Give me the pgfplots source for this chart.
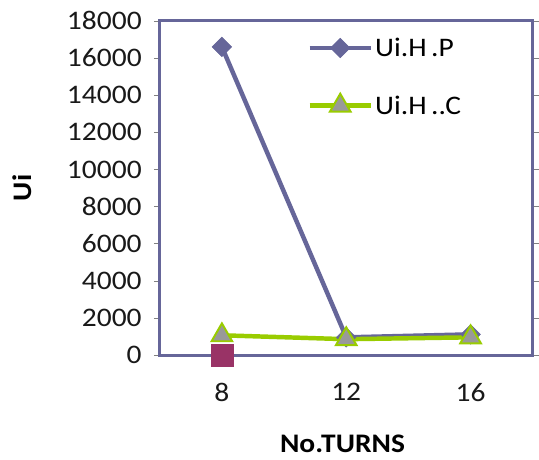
\documentclass[border=0pt]{standalone}
\usepackage{pgfplots}
\pgfplotsset{compat=1.18}
\usepackage{fontspec}
\setmainfont{Carlito}[FakeStretch=1.1]
\definecolor{cP}{HTML}{666699}
\definecolor{cC}{HTML}{99CC00}
\definecolor{cG}{HTML}{999999}
\definecolor{cM}{HTML}{993366}
\begin{document}
\begin{tikzpicture}
\begin{axis}[
  scale only axis,
  width=376pt, height=337pt,
  xmin=-0.5, xmax=2.5, ymin=0, ymax=18000,
  xtick={0,1,2}, xticklabels={8,12,16},
  ytick={0,2000,...,18000},
  scaled y ticks=false,
  /pgf/number format/1000 sep={},
  /pgf/number format/assume math mode=true,
  tick align=outside,
  x tick style={draw=none},
  y tick style={draw=gray, line width=0.6pt},
  major tick length=6pt,
  axis line style={draw=cP, line width=3pt},
  ticklabel style={font=\fontsize{27}{30}\selectfont, text=black!90},
  yticklabel style={inner sep=0pt, xshift=-12pt},
  xticklabel style={inner sep=0pt, yshift=-22pt},
  xlabel={\textbf{No.TURNS}},
  ylabel={\textbf{Ui}},
  label style={font=\fontsize{27}{30}\selectfont, inner sep=0pt},
  xlabel style={at={(axis description cs:0.49,0)}, anchor=center, yshift=-89pt},
  ylabel style={at={(axis description cs:0,0.5)}, anchor=center, xshift=0pt, yshift=139pt},
  clip=false,
  legend style={draw=none, fill=none, at={(0.395,0.955)}, anchor=north west,
    font=\fontsize{27}{30}\selectfont, row sep=34pt, inner sep=0pt},
  legend cell align=left,
  legend image code/.code={\draw[mark repeat=2,mark phase=2] plot coordinates {(0pt,0pt) (31pt,0pt) (62pt,0pt)};},
]
\addplot[cP, line width=4.5pt, mark=square*, mark size=7pt, mark options={rotate=45, fill=cP, draw=cP, line width=0.5pt}]
  coordinates {(0,16600) (1,960) (2,1120)};
\addlegendentry{Ui.H\,.P}
\addplot[cC, line width=4.5pt, mark=triangle*, mark size=12pt, mark options={fill=cG, draw=cC, line width=2pt}]
  coordinates {(0,1070) (1,860) (2,960)};
\addlegendentry{Ui.H\,..C}
\addplot[cM, only marks, mark=square*, mark size=11pt, forget plot]
  coordinates {(0,0)};
\end{axis}
\path (current axis.south west) ++(-161pt,-105pt) coordinate (bl);
\path (current axis.north east) ++(2pt,21pt) coordinate (tr);
\path[use as bounding box] (bl) rectangle (tr);
\end{tikzpicture}
\end{document}
